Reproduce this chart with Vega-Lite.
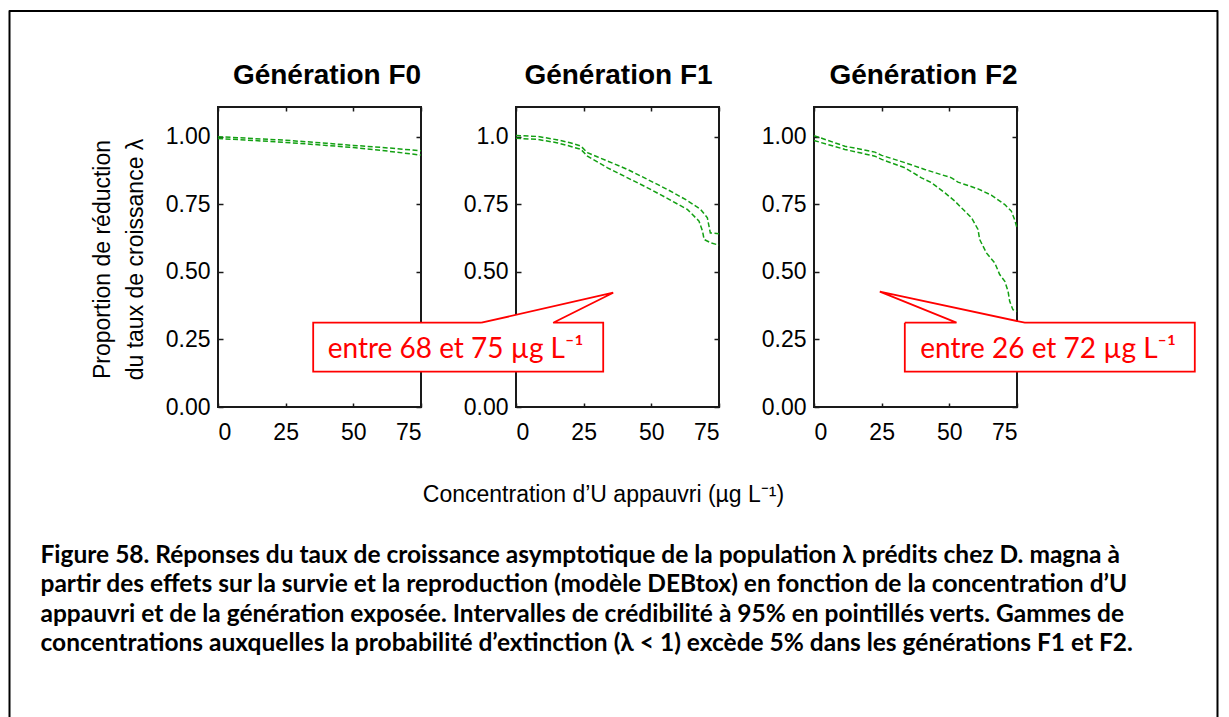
{
  "$schema": "https://vega.github.io/schema/vega-lite/v6.json",
  "background": "white",
  "padding": {"left": 7, "top": 9, "right": 5, "bottom": 0},
  "bounds": "flush",
  "spacing": 95,
  "config": {
    "font": "Liberation Sans",
    "view": {"stroke": "#1a1a1a", "strokeWidth": 2},
    "axis": {
      "domain": false, "grid": false, "tickColor": "#1a1a1a", "tickWidth": 1.5,
      "labelFont": "Liberation Sans", "labelFontSize": 23, "labelColor": "black",
      "titleFont": "Liberation Sans", "titleFontSize": 23, "titleFontWeight": "normal", "titleColor": "black",
      "zindex": 0
    }
  },
  "title": {
    "text": [
      "Figure 58. Réponses du taux de croissance asymptotique de la population λ prédits chez D. magna à",
      "partir des effets sur la survie et la reproduction (modèle DEBtox) en fonction de la concentration d’U",
      "appauvri et de la génération exposée. Intervalles de crédibilité à 95% en pointillés verts. Gammes de",
      "concentrations auxquelles la probabilité d’extinction (λ < 1) excède 5% dans les générations F1 et F2."
    ],
    "orient": "bottom", "anchor": "start", "frame": "bounds",
    "font": "Lato", "fontWeight": "bold", "fontSize": 24.5, "lineHeight": 29.3, "color": "black",
    "baseline": "alphabetic", "offset": -156, "dx": 33
  },
  "datasets": {
    "frame": [
      {"i": 0, "fx": -77.03, "fy": -1.147},
      {"i": 1, "fx": -77.03, "fy": 1.4652},
      {"i": 2, "fx": 369.27, "fy": 1.4652},
      {"i": 3, "fx": 369.27, "fy": -1.147}
    ],
    "curves": [
      {"gen": "F0", "bound": "upper", "c": 0, "v": 1.0},
      {"gen": "F0", "bound": "upper", "c": 10, "v": 0.995},
      {"gen": "F0", "bound": "upper", "c": 25, "v": 0.987},
      {"gen": "F0", "bound": "upper", "c": 40, "v": 0.976},
      {"gen": "F0", "bound": "upper", "c": 50, "v": 0.968},
      {"gen": "F0", "bound": "upper", "c": 60, "v": 0.961},
      {"gen": "F0", "bound": "upper", "c": 75, "v": 0.948},
      {"gen": "F0", "bound": "lower", "c": 0, "v": 0.993},
      {"gen": "F0", "bound": "lower", "c": 10, "v": 0.988},
      {"gen": "F0", "bound": "lower", "c": 25, "v": 0.979},
      {"gen": "F0", "bound": "lower", "c": 40, "v": 0.968},
      {"gen": "F0", "bound": "lower", "c": 50, "v": 0.96},
      {"gen": "F0", "bound": "lower", "c": 60, "v": 0.95},
      {"gen": "F0", "bound": "lower", "c": 75, "v": 0.932},
      {"gen": "F1", "bound": "upper", "c": 0, "v": 1.005},
      {"gen": "F1", "bound": "upper", "c": 8, "v": 1.001},
      {"gen": "F1", "bound": "upper", "c": 15, "v": 0.989},
      {"gen": "F1", "bound": "upper", "c": 20, "v": 0.978},
      {"gen": "F1", "bound": "upper", "c": 24, "v": 0.965},
      {"gen": "F1", "bound": "upper", "c": 26.4, "v": 0.941},
      {"gen": "F1", "bound": "upper", "c": 30, "v": 0.926},
      {"gen": "F1", "bound": "upper", "c": 33.8, "v": 0.91},
      {"gen": "F1", "bound": "upper", "c": 41.2, "v": 0.879},
      {"gen": "F1", "bound": "upper", "c": 48.6, "v": 0.842},
      {"gen": "F1", "bound": "upper", "c": 55.9, "v": 0.805},
      {"gen": "F1", "bound": "upper", "c": 63.3, "v": 0.764},
      {"gen": "F1", "bound": "upper", "c": 68.2, "v": 0.731},
      {"gen": "F1", "bound": "upper", "c": 70.7, "v": 0.7},
      {"gen": "F1", "bound": "upper", "c": 71.3, "v": 0.669},
      {"gen": "F1", "bound": "upper", "c": 71.8, "v": 0.644},
      {"gen": "F1", "bound": "upper", "c": 75, "v": 0.641},
      {"gen": "F1", "bound": "lower", "c": 0, "v": 0.994},
      {"gen": "F1", "bound": "lower", "c": 8, "v": 0.99},
      {"gen": "F1", "bound": "lower", "c": 15, "v": 0.978},
      {"gen": "F1", "bound": "lower", "c": 20, "v": 0.965},
      {"gen": "F1", "bound": "lower", "c": 24, "v": 0.953},
      {"gen": "F1", "bound": "lower", "c": 26.4, "v": 0.928},
      {"gen": "F1", "bound": "lower", "c": 33.8, "v": 0.885},
      {"gen": "F1", "bound": "lower", "c": 41.2, "v": 0.848},
      {"gen": "F1", "bound": "lower", "c": 48.6, "v": 0.811},
      {"gen": "F1", "bound": "lower", "c": 55.9, "v": 0.772},
      {"gen": "F1", "bound": "lower", "c": 63.3, "v": 0.731},
      {"gen": "F1", "bound": "lower", "c": 67.6, "v": 0.688},
      {"gen": "F1", "bound": "lower", "c": 68.9, "v": 0.651},
      {"gen": "F1", "bound": "lower", "c": 69.5, "v": 0.62},
      {"gen": "F1", "bound": "lower", "c": 72, "v": 0.607},
      {"gen": "F1", "bound": "lower", "c": 75, "v": 0.599},
      {"gen": "F2", "bound": "upper", "c": 0, "v": 1.004},
      {"gen": "F2", "bound": "upper", "c": 11.4, "v": 0.965},
      {"gen": "F2", "bound": "upper", "c": 22.5, "v": 0.943},
      {"gen": "F2", "bound": "upper", "c": 25, "v": 0.931},
      {"gen": "F2", "bound": "upper", "c": 33.6, "v": 0.904},
      {"gen": "F2", "bound": "upper", "c": 40.9, "v": 0.879},
      {"gen": "F2", "bound": "upper", "c": 50.8, "v": 0.848},
      {"gen": "F2", "bound": "upper", "c": 53.2, "v": 0.832},
      {"gen": "F2", "bound": "upper", "c": 60.6, "v": 0.807},
      {"gen": "F2", "bound": "upper", "c": 65.5, "v": 0.784},
      {"gen": "F2", "bound": "upper", "c": 70.5, "v": 0.749},
      {"gen": "F2", "bound": "upper", "c": 72.9, "v": 0.725},
      {"gen": "F2", "bound": "upper", "c": 74.1, "v": 0.694},
      {"gen": "F2", "bound": "upper", "c": 75, "v": 0.663},
      {"gen": "F2", "bound": "lower", "c": 0, "v": 0.986},
      {"gen": "F2", "bound": "lower", "c": 11.4, "v": 0.953},
      {"gen": "F2", "bound": "lower", "c": 22.5, "v": 0.928},
      {"gen": "F2", "bound": "lower", "c": 25, "v": 0.916},
      {"gen": "F2", "bound": "lower", "c": 33.6, "v": 0.885},
      {"gen": "F2", "bound": "lower", "c": 39.7, "v": 0.848},
      {"gen": "F2", "bound": "lower", "c": 43.4, "v": 0.83},
      {"gen": "F2", "bound": "lower", "c": 48.3, "v": 0.793},
      {"gen": "F2", "bound": "lower", "c": 52, "v": 0.762},
      {"gen": "F2", "bound": "lower", "c": 55.7, "v": 0.725},
      {"gen": "F2", "bound": "lower", "c": 58.2, "v": 0.7},
      {"gen": "F2", "bound": "lower", "c": 60.6, "v": 0.657},
      {"gen": "F2", "bound": "lower", "c": 61.2, "v": 0.62},
      {"gen": "F2", "bound": "lower", "c": 63.7, "v": 0.57},
      {"gen": "F2", "bound": "lower", "c": 66.8, "v": 0.533},
      {"gen": "F2", "bound": "lower", "c": 68.6, "v": 0.49},
      {"gen": "F2", "bound": "lower", "c": 70.5, "v": 0.465},
      {"gen": "F2", "bound": "lower", "c": 71.7, "v": 0.428},
      {"gen": "F2", "bound": "lower", "c": 72.3, "v": 0.391},
      {"gen": "F2", "bound": "lower", "c": 73.5, "v": 0.36},
      {"gen": "F2", "bound": "lower", "c": 75, "v": 0.354}
    ],
    "callout": [
      {"panel": "F1", "i": 0, "cx": -12.75, "cy": 0.3119},
      {"panel": "F1", "i": 1, "cx": 35.91, "cy": 0.4229},
      {"panel": "F1", "i": 2, "cx": 13.74, "cy": 0.3119},
      {"panel": "F1", "i": 3, "cx": 32.22, "cy": 0.3119},
      {"panel": "F1", "i": 4, "cx": 32.22, "cy": 0.1306},
      {"panel": "F1", "i": 5, "cx": -74.93, "cy": 0.1306},
      {"panel": "F1", "i": 6, "cx": -74.93, "cy": 0.3119},
      {"panel": "F1", "i": 7, "cx": -12.75, "cy": 0.3119},
      {"panel": "F2", "i": 0, "cx": 33.55, "cy": 0.3119},
      {"panel": "F2", "i": 1, "cx": 52.65, "cy": 0.3119},
      {"panel": "F2", "i": 2, "cx": 24.31, "cy": 0.4266},
      {"panel": "F2", "i": 3, "cx": 77.88, "cy": 0.3119},
      {"panel": "F2", "i": 4, "cx": 140.69, "cy": 0.3119},
      {"panel": "F2", "i": 5, "cx": 140.69, "cy": 0.1306},
      {"panel": "F2", "i": 6, "cx": 33.55, "cy": 0.1306},
      {"panel": "F2", "i": 7, "cx": 33.55, "cy": 0.3119}
    ],
    "labels": [
      {"panel": "F1", "tx": -22.28, "ty": 0.1824, "label": "entre 68 et 75 µg L⁻¹"},
      {"panel": "F2", "tx": 86.53, "ty": 0.1824, "label": "entre 26 et 72 µg L⁻¹"}
    ]
  },
  "hconcat": [
    {
      "width": 203, "height": 300,
      "layer": [
        {
          "data": {"name": "frame"},
          "mark": {"type": "line", "color": "black", "strokeWidth": 2, "strokeJoin": "round", "strokeCap": "butt"},
          "encoding": {
            "x": {"field": "fx", "type": "quantitative", "scale": {"domain": [0, 75], "nice": false, "zero": false}, "axis": null},
            "y": {"field": "fy", "type": "quantitative", "scale": {"domain": [0, 1.11], "nice": false, "zero": false}, "axis": null},
            "order": {"field": "i", "type": "quantitative"}
          }
        },
        {
          "data": {"name": "curves"},
          "transform": [{"filter": "datum.gen == 'F0'"}],
          "mark": {"type": "line", "color": "#13a013", "strokeWidth": 1.5, "strokeDash": [5, 2.5]},
          "encoding": {
            "x": {"field": "c", "type": "quantitative", "scale": {"domain": [0, 75], "nice": false, "zero": false},
                  "axis": {"orient": "bottom", "values": [0, 25, 50, 75], "tickSize": -4, "labelPadding": 18, "title": null}},
            "y": {"field": "v", "type": "quantitative", "scale": {"domain": [0, 1.11], "nice": false, "zero": false},
                  "axis": {"orient": "left", "values": [0, 0.25, 0.5, 0.75, 1], "format": ".2f", "tickSize": -5, "labelPadding": 13,
                           "title": ["Proportion de réduction", "du taux de croissance λ"],
                           "titleAngle": -90, "titleX": -108.3, "titleY": 152, "titleAlign": "center", "titleBaseline": "alphabetic", "titleLineHeight": 33}},
            "detail": {"field": "bound"}
          }
        },
        {
          "data": {"name": "curves"},
          "transform": [{"filter": "datum.gen == 'F0'"}],
          "mark": {"type": "point", "opacity": 0},
          "encoding": {
            "x": {"field": "c", "type": "quantitative", "scale": {"domain": [0, 75], "nice": false, "zero": false},
                  "axis": {"orient": "top", "values": [0, 25, 50, 75], "tickSize": -4, "labels": false,
                           "title": "Génération F0", "titleFontSize": 28, "titleFontWeight": "bold", "titleX": 108.5, "titleY": -23.5, "titleAlign": "center", "titleBaseline": "alphabetic", "titleAngle": 0}},
            "y": {"field": "v", "type": "quantitative", "scale": {"domain": [0, 1.11], "nice": false, "zero": false},
                  "axis": {"orient": "right", "values": [0, 0.25, 0.5, 0.75, 1], "tickSize": -5, "labels": false, "title": null}}
          }
        }
      ],
      "resolve": {"axis": {"x": "independent", "y": "independent"}}
    },
    {
      "width": 203, "height": 300,
      "layer": [
        {
          "data": {"name": "curves"},
          "transform": [{"filter": "datum.gen == 'F1'"}],
          "mark": {"type": "line", "color": "#13a013", "strokeWidth": 1.5, "strokeDash": [5, 2.5]},
          "encoding": {
            "x": {"field": "c", "type": "quantitative", "scale": {"domain": [0, 75], "nice": false, "zero": false},
                  "axis": {"orient": "bottom", "values": [0, 25, 50, 75], "tickSize": -4, "labelPadding": 18,
                           "title": "Concentration d’U appauvri (µg L⁻¹)", "titleX": 87, "titleY": 94, "titleAlign": "center", "titleBaseline": "alphabetic"}},
            "y": {"field": "v", "type": "quantitative", "scale": {"domain": [0, 1.11], "nice": false, "zero": false},
                  "axis": {"orient": "left", "values": [0, 0.25, 0.5, 0.75, 1], "labelExpr": "datum.value == 1 ? '1.0\u00a0\u00a0' : datum.value == 0.25 ? '' : format(datum.value, '.2f')", "tickSize": -5, "labelPadding": 13, "title": null}},
            "detail": {"field": "bound"}
          }
        },
        {
          "data": {"name": "curves"},
          "transform": [{"filter": "datum.gen == 'F1'"}],
          "mark": {"type": "point", "opacity": 0},
          "encoding": {
            "x": {"field": "c", "type": "quantitative", "scale": {"domain": [0, 75], "nice": false, "zero": false},
                  "axis": {"orient": "top", "values": [0, 25, 50, 75], "tickSize": -4, "labels": false,
                           "title": "Génération F1", "titleFontSize": 28, "titleFontWeight": "bold", "titleX": 102, "titleY": -23.5, "titleAlign": "center", "titleBaseline": "alphabetic", "titleAngle": 0}},
            "y": {"field": "v", "type": "quantitative", "scale": {"domain": [0, 1.11], "nice": false, "zero": false},
                  "axis": {"orient": "right", "values": [0, 0.25, 0.5, 0.75, 1], "tickSize": -5, "labels": false, "title": null}}
          }
        },
        {
          "data": {"name": "callout"},
          "transform": [{"filter": "datum.panel == 'F1'"}],
          "mark": {"type": "line", "color": "#ff0000", "fill": "white", "strokeWidth": 1.8, "strokeJoin": "miter"},
          "encoding": {
            "x": {"field": "cx", "type": "quantitative", "scale": {"domain": [0, 75], "nice": false, "zero": false}, "axis": null},
            "y": {"field": "cy", "type": "quantitative", "scale": {"domain": [0, 1.11], "nice": false, "zero": false}, "axis": null},
            "order": {"field": "i", "type": "quantitative"}
          }
        },
        {
          "data": {"name": "labels"},
          "transform": [{"filter": "datum.panel == 'F1'"}],
          "mark": {"type": "text", "font": "Lato", "fontSize": 28, "color": "#ff0000", "align": "center", "baseline": "alphabetic"},
          "encoding": {
            "x": {"field": "tx", "type": "quantitative", "scale": {"domain": [0, 75], "nice": false, "zero": false}, "axis": null},
            "y": {"field": "ty", "type": "quantitative", "scale": {"domain": [0, 1.11], "nice": false, "zero": false}, "axis": null},
            "text": {"field": "label"}
          }
        }
      ],
      "resolve": {"axis": {"x": "independent", "y": "independent"}}
    },
    {
      "width": 203, "height": 300,
      "layer": [
        {
          "data": {"name": "curves"},
          "transform": [{"filter": "datum.gen == 'F2'"}],
          "mark": {"type": "line", "color": "#13a013", "strokeWidth": 1.5, "strokeDash": [5, 2.5]},
          "encoding": {
            "x": {"field": "c", "type": "quantitative", "scale": {"domain": [0, 75], "nice": false, "zero": false},
                  "axis": {"orient": "bottom", "values": [0, 25, 50, 75], "tickSize": -4, "labelPadding": 18, "title": null}},
            "y": {"field": "v", "type": "quantitative", "scale": {"domain": [0, 1.11], "nice": false, "zero": false},
                  "axis": {"orient": "left", "values": [0, 0.25, 0.5, 0.75, 1], "format": ".2f", "tickSize": -5, "labelPadding": 13, "title": null}},
            "detail": {"field": "bound"}
          }
        },
        {
          "data": {"name": "curves"},
          "transform": [{"filter": "datum.gen == 'F2'"}],
          "mark": {"type": "point", "opacity": 0},
          "encoding": {
            "x": {"field": "c", "type": "quantitative", "scale": {"domain": [0, 75], "nice": false, "zero": false},
                  "axis": {"orient": "top", "values": [0, 25, 50, 75], "tickSize": -4, "labels": false,
                           "title": "Génération F2", "titleFontSize": 28, "titleFontWeight": "bold", "titleX": 109, "titleY": -23.5, "titleAlign": "center", "titleBaseline": "alphabetic", "titleAngle": 0}},
            "y": {"field": "v", "type": "quantitative", "scale": {"domain": [0, 1.11], "nice": false, "zero": false},
                  "axis": {"orient": "right", "values": [0, 0.25, 0.5, 0.75, 1], "tickSize": -5, "labels": false, "title": null}}
          }
        },
        {
          "data": {"name": "callout"},
          "transform": [{"filter": "datum.panel == 'F2'"}],
          "mark": {"type": "line", "color": "#ff0000", "fill": "white", "strokeWidth": 1.8, "strokeJoin": "miter"},
          "encoding": {
            "x": {"field": "cx", "type": "quantitative", "scale": {"domain": [0, 75], "nice": false, "zero": false}, "axis": null},
            "y": {"field": "cy", "type": "quantitative", "scale": {"domain": [0, 1.11], "nice": false, "zero": false}, "axis": null},
            "order": {"field": "i", "type": "quantitative"}
          }
        },
        {
          "data": {"name": "labels"},
          "transform": [{"filter": "datum.panel == 'F2'"}],
          "mark": {"type": "text", "font": "Lato", "fontSize": 28, "color": "#ff0000", "align": "center", "baseline": "alphabetic"},
          "encoding": {
            "x": {"field": "tx", "type": "quantitative", "scale": {"domain": [0, 75], "nice": false, "zero": false}, "axis": null},
            "y": {"field": "ty", "type": "quantitative", "scale": {"domain": [0, 1.11], "nice": false, "zero": false}, "axis": null},
            "text": {"field": "label"}
          }
        }
      ],
      "resolve": {"axis": {"x": "independent", "y": "independent"}}
    }
  ]
}
